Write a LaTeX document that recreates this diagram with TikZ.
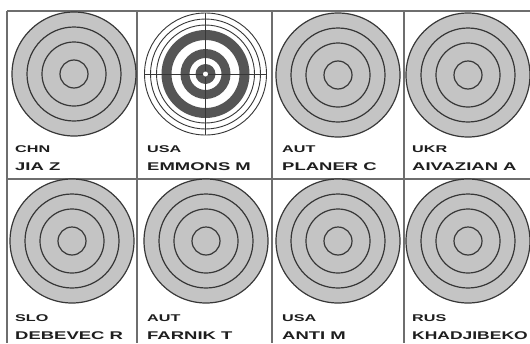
\documentclass[tikz,border=0pt]{standalone}
\usepackage{fontspec}
\setmainfont{Liberation Sans}
\definecolor{tgray}{RGB}{196,196,196}
\definecolor{rline}{RGB}{55,55,55}
\definecolor{grid}{RGB}{110,110,110}
\definecolor{dband}{RGB}{85,85,85}
\definecolor{txt}{RGB}{30,30,30}
\tikzset{
  gridline/.style={draw=grid, line width=1.1pt},
  ringline/.style={draw=rline, line width=1.2pt},
  thinring/.style={draw=rline, line width=0.9pt},
  nat/.style={anchor=base west, inner sep=0pt, text=txt, font=\bfseries\fontsize{9.8}{10}\selectfont},
  nam/.style={anchor=base west, inner sep=0pt, text=txt, font=\bfseries\fontsize{11.2}{12}\selectfont},
}
\newcommand{\grtarget}[3]{%
  \fill[tgray] (#1,#2) circle[radius=62];
  \draw[ringline] (#1,#2) circle[radius=62];
  \draw[ringline] (#1,#2) circle[radius=47];
  \draw[ringline] (#1,#2) circle[radius=32];
  \draw[ringline] (#1,#2) circle[radius=14];
  \coordinate (#3) at (#1,#2);
}
\newcommand{\widetxt}[1]{\scalebox{1.65}[1]{#1}}
\begin{document}
\begin{tikzpicture}[x=1pt,y=-1pt]
\useasboundingbox (0,0) rectangle (530,343);
\fill[white] (0,0) rectangle (530,343);
% grid
\draw[gridline] (7,11) -- (530,11);
\draw[gridline] (7,179) -- (530,179);
\foreach \x in {7,137,272,404} \draw[gridline] (\x,11) -- (\x,343);
% row 1 targets
\grtarget{74}{74}{t1}
\grtarget{338}{75}{t3}
\grtarget{468}{75}{t4}
% Emmons target
\begin{scope}[shift={(205.5,74)}]
  \coordinate (t2) at (0,0);
  \draw[thinring] (0,0) circle[radius=61];
  \draw[thinring] (0,0) circle[radius=55];
  \draw[thinring] (0,0) circle[radius=49];
  \fill[dband, even odd rule] (0,0) circle[radius=44] (0,0) circle[radius=34];
  \fill[dband, even odd rule] (0,0) circle[radius=25] (0,0) circle[radius=16];
  \fill[dband] (0,0) circle[radius=10];
  \draw[draw=rline, line width=0.7pt] (-61,0) -- (61,0) (0,-61) -- (0,61);
  \fill[white] (0,0) circle[radius=2.5];
\end{scope}
% row 2 targets
\grtarget{72}{241}{t5}
\grtarget{206}{241}{t6}
\grtarget{338}{241}{t7}
\grtarget{468}{241}{t8}
% labels row 1
\node[nat] (c1) at (15,152) {\widetxt{CHN}};
\node[nam] (n1) at (15,170) {\widetxt{JIA Z}};
\node[nat] (c2) at (147,152) {\widetxt{USA}};
\node[nam] (n2) at (147,170) {\widetxt{EMMONS M}};
\node[nat] (c3) at (282,152) {\widetxt{AUT}};
\node[nam] (n3) at (282,170) {\widetxt{PLANER C}};
\node[nat] (c4) at (412,152) {\widetxt{UKR}};
\node[nam] (n4) at (412,170) {\widetxt{AIVAZIAN A}};
% labels row 2
\node[nat] (c5) at (15,321) {\widetxt{SLO}};
\node[nam] (n5) at (15,339) {\widetxt{DEBEVEC R}};
\node[nat] (c6) at (147,321) {\widetxt{AUT}};
\node[nam] (n6) at (147,339) {\widetxt{FARNIK T}};
\node[nat] (c7) at (282,321) {\widetxt{USA}};
\node[nam] (n7) at (282,339) {\widetxt{ANTI M}};
\node[nat] (c8) at (412,321) {\widetxt{RUS}};
\node[nam] (n8) at (412,339) {\scalebox{1.56}[1]{KHADJIBEKO}};
\end{tikzpicture}
\end{document}
